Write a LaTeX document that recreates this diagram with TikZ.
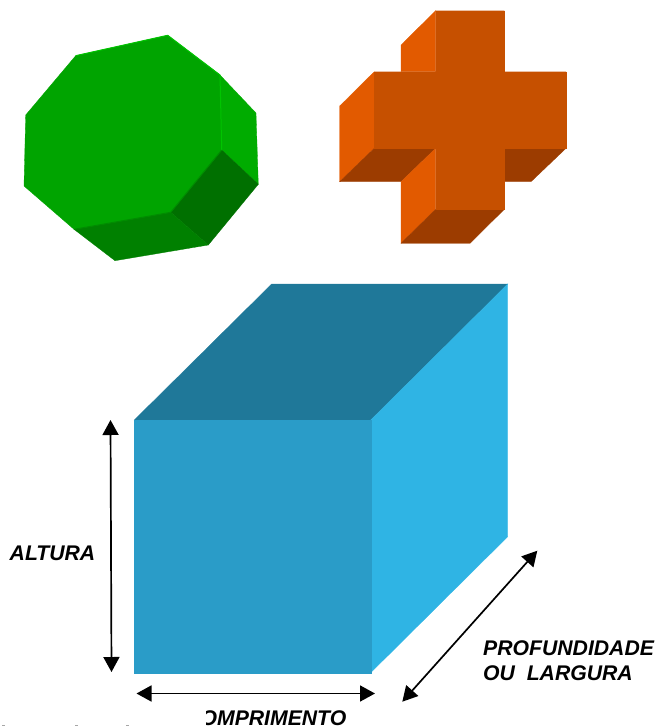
\documentclass[tikz,border=0pt]{standalone}
\usepackage{fontspec}
\setmainfont{Liberation Sans}
\usetikzlibrary{arrows.meta}
\definecolor{gmain}{HTML}{00A400}
\definecolor{gright}{HTML}{00AC00}
\definecolor{gdark}{HTML}{007000}
\definecolor{gbot}{HTML}{008000}
\definecolor{gedge}{HTML}{00C400}
\definecolor{gedged}{HTML}{008C00}
\definecolor{omain}{HTML}{C65000}
\definecolor{oleft}{HTML}{E25A00}
\definecolor{odark}{HTML}{9C3C00}
\definecolor{bfront}{HTML}{2A9CC8}
\definecolor{bright}{HTML}{2FB4E4}
\definecolor{btop}{HTML}{1F7899}
\tikzset{
  dimarrow/.style={{Triangle[width=16pt,length=15pt]}-{Triangle[width=16pt,length=15pt]},line width=1.7pt,black},
  dimlabel/.style={font=\fontsize{21.2}{25}\selectfont\bfseries\itshape,inner sep=0pt,black},
  solidface/.style={line width=0.3pt,draw=#1,fill=#1},
}
\begin{document}
\begin{tikzpicture}[x=1pt,y=-1pt]
\useasboundingbox (0,0) rectangle (657,726);
% green solid
\path[solidface=gright] (220,75) -- (256,113) -- (258.3,184.3) -- (221.7,150) -- cycle;
\path[solidface=gdark] (221.7,150) -- (258.3,184.3) -- (208.3,245) -- (170.7,212.3) -- cycle;
\path[solidface=gbot] (74,229.3) -- (170.7,212.3) -- (208.3,245) -- (115,260.7) -- cycle;
\path[solidface=gmain] (75.7,55.7) -- (167.7,35.3) -- (220,75) -- (221.7,150) -- (170.7,212.3) -- (74,229.3) -- (24,186) -- (25.7,115) -- cycle;
\draw[gedge,line width=1pt] (75.7,55.7) -- (167.7,35.3) -- (220,75) -- (221.7,150);
\draw[gedged,line width=1pt] (221.7,150) -- (170.7,212.3) -- (74,229.3);
% orange cross
\path[solidface=oleft] (435.7,10.7) -- (401,45) -- (401,71.7) -- (435.7,71.7) -- cycle;
\path[solidface=oleft] (374.3,71.7) -- (339.7,106) -- (339.7,181.7) -- (374.3,148.3) -- cycle;
\path[solidface=odark] (374.3,148.3) -- (339.7,181.7) -- (401,181.7) -- (435.7,148.3) -- cycle;
\path[solidface=odark] (504.3,148.3) -- (566,148.3) -- (531,181.7) -- (504.3,181.7) -- cycle;
\path[solidface=oleft] (435.7,148.3) -- (401,181.7) -- (401,243.3) -- (435.7,209.3) -- cycle;
\path[solidface=odark] (435.7,209.3) -- (504.3,209.3) -- (470,243.3) -- (401,243.3) -- cycle;
\path[solidface=omain] (435.7,10.7) -- (504.3,10.7) -- (504.3,71.7) -- (566,71.7) -- (566,148.3) -- (504.3,148.3) -- (504.3,209.3) -- (435.7,209.3) -- (435.7,148.3) -- (374.3,148.3) -- (374.3,71.7) -- (435.7,71.7) -- cycle;
% blue box
\path[solidface=btop] (134.3,420) -- (271.7,284) -- (507.7,284) -- (370.7,420) -- cycle;
\path[solidface=bright] (370.7,420) -- (507.7,284) -- (507.7,536.7) -- (370.7,672.7) -- cycle;
\path[solidface=bfront] (134.3,420) rectangle (370.7,672.7);
% dimension arrows
\coordinate (hTop) at (110.5,420);
\coordinate (hBot) at (111.5,672);
\coordinate (wL) at (136.5,693.5);
\coordinate (wR) at (375,693.5);
\coordinate (dA) at (537.3,550.7);
\coordinate (dB) at (402.3,701.7);
\draw[dimarrow] (hTop) -- (hBot);
\draw[dimarrow] (wL) -- (wR);
\draw[dimarrow] (dB) -- (dA);
% labels
\node[dimlabel,anchor=base west] (altura) at (9.5,560) {ALTURA};
\node[dimlabel,anchor=base west] (prof) at (483,655.5) {PROFUNDIDADE};
\node[dimlabel,anchor=base west] (larg) at (483,680.5) {OU\ \ LARGURA};
\begin{scope}
\clip (206,700) rectangle (657,726);
\node[dimlabel,anchor=base east] (comp) at (346.5,725) {COMPRIMENTO};
\end{scope}
% specks along the lower edge
\draw[black!35,line width=0.7pt] (2,725.6) -- (5,725.6) (75,725.6) -- (78,725.6) (126,725.6) -- (129,725.6);
\end{tikzpicture}
\end{document}
